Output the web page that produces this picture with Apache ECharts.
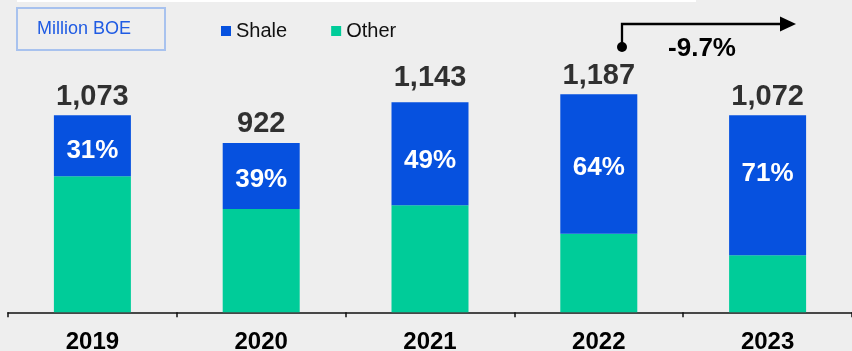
<!DOCTYPE html>
<html>
<head>
<meta charset="utf-8">
<script src="https://cdn.jsdelivr.net/npm/echarts@6/dist/echarts.min.js"></script>
<style>
  html, body { margin: 0; padding: 0; background: #eeeeee; }
  #chart { width: 852px; height: 351px; }
</style>
</head>
<body>
<div id="chart"></div>
<script>
// Annual production, million barrels of oil equivalent
const years = ['2019', '2020', '2021', '2022', '2023'];
const totals = [1073, 922, 1143, 1187, 1072];
const shalePct = [31, 39, 49, 64, 71];
const changeLabel = '-9.7%';

// Split each year's total into shale and other volumes
const shale = totals.map((t, i) => t * shalePct[i] / 100);
const other = totals.map((t, i) => t - shale[i]);

// Small vertical nudges for the in-bar percentage labels and the totals
const pctNudge = [5.5, 4, 7, 3.5, -11.5];
const totalNudge = [1, 1, -5, 1, 1];

const FONT = '"Liberation Sans", Arial, sans-serif';
const BLUE = '#0651df';
const GREEN = '#00cc99';

const chart = echarts.init(document.getElementById('chart'));
chart.setOption({
  backgroundColor: '#eeeeee',
  animation: false,
  textStyle: { fontFamily: FONT },
  grid: {
    left: 8, right: 0, top: 36.7, bottom: 38.7,
    containLabel: false, outerBoundsMode: 'none'
  },
  legend: {
    left: 221, top: 21, padding: 0,
    icon: 'rect', itemWidth: 10, itemHeight: 10, itemGap: 44,
    textStyle: { fontFamily: FONT, fontSize: 20, color: '#111' },
    data: ['Shale', 'Other']
  },
  xAxis: {
    type: 'category',
    data: years,
    axisLine: { lineStyle: { color: '#111', width: 1.5 } },
    axisTick: { show: true, length: 5, lineStyle: { color: '#111', width: 1.5 } },
    axisLabel: {
      color: '#000', fontFamily: FONT, fontSize: 24, fontWeight: 'bold', margin: 18.5
    }
  },
  yAxis: { type: 'value', min: 0, max: 1500, show: false, splitLine: { show: false } },
  series: [
    {
      name: 'Other', type: 'bar', stack: 'total', barWidth: 77,
      itemStyle: { color: GREEN },
      data: other
    },
    {
      name: 'Shale', type: 'bar', stack: 'total', barWidth: 77,
      itemStyle: { color: BLUE },
      data: shale.map((v, i) => ({
        value: v,
        label: { offset: [0, pctNudge[i]] }
      })),
      label: {
        show: true, position: 'inside', color: '#fff',
        fontFamily: FONT, fontSize: 26, fontWeight: 'bold',
        formatter: p => shalePct[p.dataIndex] + '%'
      }
    },
    {
      name: 'Total', type: 'scatter', symbolSize: 0, silent: true,
      data: totals.map((v, i) => ({
        value: v,
        label: { offset: [0, totalNudge[i]] }
      })),
      label: {
        show: true, position: 'top', distance: 5, color: '#000',
        fontFamily: FONT, fontSize: 29, fontWeight: 'bold',
        formatter: p => p.value.toLocaleString('en-US')
      }
    }
  ],
  graphic: [
    { type: 'rect', shape: { x: 17, y: 0, width: 679, height: 2 }, style: { fill: '#ffffff' }, silent: true },
    { type: 'rect', shape: { x: 17, y: 8, width: 148, height: 42 },
      style: { fill: 'none', stroke: '#a8c2ee', lineWidth: 2 } },
    { type: 'text', x: 84, y: 29.5,
      style: { text: 'Million BOE', fill: '#1f5be3', font: '18px ' + FONT, align: 'center', verticalAlign: 'middle' } },
    // Change bracket from 2022 to 2023
    { type: 'polyline', shape: { points: [[622, 47], [622, 24], [783, 24]] },
      style: { stroke: '#000', lineWidth: 2.3, fill: 'none' } },
    { type: 'polygon', shape: { points: [[780, 16.5], [796, 24], [780, 31.5]] }, style: { fill: '#000' } },
    { type: 'circle', shape: { cx: 622, cy: 47, r: 5 }, style: { fill: '#000' } },
    { type: 'text', x: 702, y: 48.5,
      style: { text: changeLabel, fill: '#000', font: 'bold 26px ' + FONT, align: 'center', verticalAlign: 'middle' } }
  ]
});
</script>
</body>
</html>
